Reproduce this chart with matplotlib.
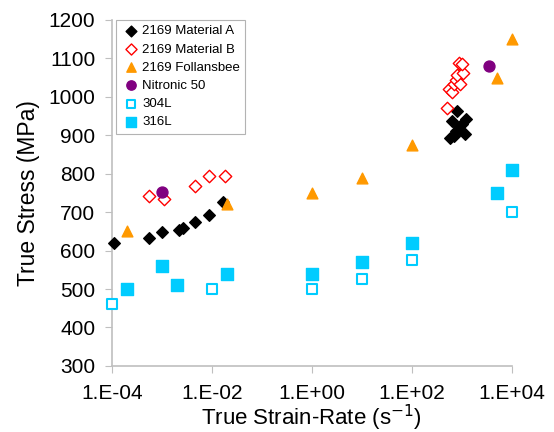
import matplotlib
matplotlib.use("Agg")
import matplotlib.pyplot as plt

plt.rcParams['font.family'] = ['Liberation Sans', 'DejaVu Sans']

# 2169 Material A
mat_a_rate = [1.1e-4, 5.4e-4, 1.0e-3, 2.2e-3, 2.7e-3, 4.5e-3, 8.7e-3, 1.7e-2,
              8.1e2, 6.2e2, 1.23e3, 8.9e2, 6.8e2, 1.15e3, 5.9e2, 7.6e2, 1.02e3]
mat_a_stress = [619, 632, 648, 654, 658, 674, 692, 725,
                964, 938, 943, 921, 899, 903, 893, 912, 930]

# 2169 Material B
mat_b_rate = [5.6e-4, 1.1e-3, 4.5e-3, 8.9e-3, 1.8e-2,
              5.1e2, 5.6e2, 6.2e2, 6.8e2, 7.6e2, 9.3e2, 8.1e2, 1.07e3, 8.9e2, 1.02e3]
mat_b_stress = [741, 734, 767, 793, 794,
                971, 1020, 1012, 1034, 1043, 1034, 1056, 1062, 1089, 1085]

# 2169 Follansbee
foll_rate = [2e-4, 2e-2, 1, 10, 100, 5e3, 1e4]
foll_stress = [650, 720, 750, 790, 875, 1050, 1150]

# Nitronic 50
nit_rate = [1e-3, 3.5e3]
nit_stress = [752, 1081]

# 304L
s304_rate = [1e-4, 1e-2, 1, 10, 100, 1e4]
s304_stress = [460, 500, 500, 525, 575, 700]

# 316L
s316_rate = [2e-4, 1e-3, 2e-3, 2e-2, 1, 10, 100, 5e3, 1e4]
s316_stress = [500, 560, 510, 540, 540, 570, 620, 750, 810]

xticks = [1e-4, 1e-2, 1, 1e2, 1e4]
xtick_labels = ["1.E-04", "1.E-02", "1.E+00", "1.E+02", "1.E+04"]

fig = plt.figure(figsize=(5.54, 4.32), dpi=100)
ax = fig.add_axes([0.202, 0.153, 0.722, 0.801])

kw = dict(zorder=3, clip_on=False)
ax.scatter(mat_a_rate, mat_a_stress, marker='D', s=35, color='black', label='2169 Material A', **kw)
ax.scatter(mat_b_rate, mat_b_stress, marker='D', s=40, facecolor='white', edgecolor='#FF0000',
           linewidth=1.0, label='2169 Material B', **kw)
ax.scatter(foll_rate, foll_stress, marker='^', s=60, color='#FF9900', label='2169 Follansbee', **kw)
ax.scatter(nit_rate, nit_stress, marker='o', s=62, color='#800080', label='Nitronic 50', **kw)
ax.scatter(s304_rate, s304_stress, marker='s', s=60, facecolor='white', edgecolor='#00CCFF',
           linewidth=1.5, label='304L', **kw)
ax.scatter(s316_rate, s316_stress, marker='s', s=78, color='#00CCFF', label='316L', **kw)

ax.set_xscale('log')
ax.set_xlim(1e-4, 1e4)
ax.set_ylim(300, 1200)
ax.set_xticks(xticks)
ax.set_xticklabels(xtick_labels)
ax.minorticks_off()
ax.set_yticks(range(300, 1201, 100))

for s in ['top', 'right']:
    ax.spines[s].set_visible(False)
for s in ['left', 'bottom']:
    ax.spines[s].set_color('#BFBFBF')
    ax.spines[s].set_linewidth(1.2)
ax.tick_params(colors='#BFBFBF', labelcolor='black', labelsize=15, length=5, direction='out')
ax.tick_params(axis='y', pad=7)
ax.tick_params(axis='x', pad=8)

ax.set_xlabel('True Strain-Rate (s$^{-1}$)', fontsize=16, labelpad=0)
ax.set_ylabel('True Stress (MPa)', fontsize=16.5, labelpad=6)

leg = ax.legend(loc='upper left', fontsize=9.5, frameon=True, fancybox=False,
                borderpad=0.4, handletextpad=0.1, labelspacing=0.45,
                handlelength=1.5, borderaxespad=0, bbox_to_anchor=(0.01, 1.0),
                scatterpoints=1)
leg.get_frame().set_edgecolor('#A0A0A0')
leg.get_frame().set_linewidth(0.8)
for h, sz in zip(leg.legend_handles, [30, 32, 45, 45, 40, 45]):
    h.set_sizes([sz])

fig.savefig('out.png', dpi=100)
